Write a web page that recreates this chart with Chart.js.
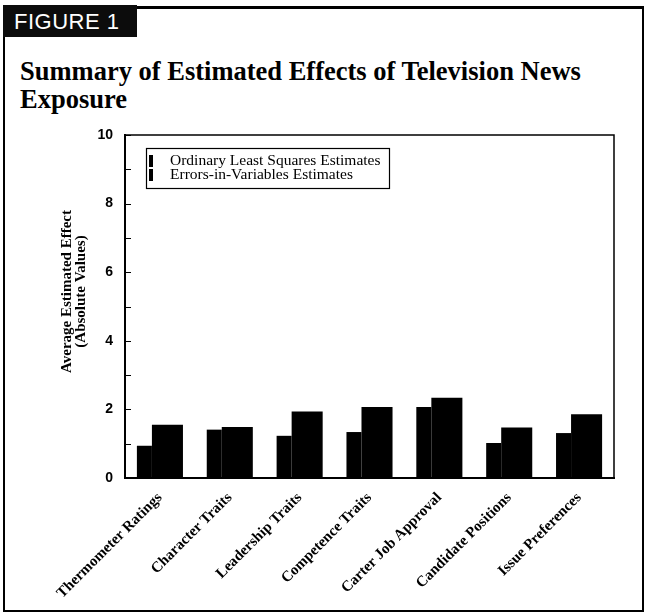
<!DOCTYPE html>
<html>
<head>
<meta charset="utf-8">
<script src="https://cdn.jsdelivr.net/npm/chart.js@4.4.0/dist/chart.umd.min.js"></script>
<style>
    body { margin: 0; background: #fff; }
    #pagina { position: relative; width: 647px; height: 616px; overflow: hidden; background: #fff; }
    #moldura { position: absolute; left: 3px; top: 6px; width: 641px; height: 606px; box-sizing: border-box;
               border: 2px solid #000; border-top-width: 3px; }
    #aba { position: absolute; left: 3px; top: 5px; width: 134px; height: 32px; background: #0c0c0c; color: #fff;
           font: 22px "Liberation Sans", Arial, sans-serif; line-height: 33px; padding-left: 11px; box-sizing: border-box;
           letter-spacing: 0.5px; }
    #titulo { position: absolute; left: 20px; top: 57px; width: 625px; font: bold 26.5px "Liberation Serif", serif;
              line-height: 28px; color: #000; white-space: nowrap; }
    #caixaGrafico { position: absolute; left: 0; top: 0; width: 647px; height: 616px; }
</style>
</head>
<body>
<div id="pagina">
    <div id="moldura"></div>
    <div id="aba">FIGURE 1</div>
    <div id="titulo">Summary of Estimated Effects of Television News<br>Exposure</div>
    <div id="caixaGrafico"><canvas id="grafico"></canvas></div>
</div>
<script>

const categorias = ['Thermometer Ratings', 'Character Traits', 'Leadership Traits', 'Competence Traits',
    'Carter Job Approval', 'Candidate Positions', 'Issue Preferences'];
const valoresMQO = [0.94, 1.41, 1.23, 1.34, 2.07, 1.02, 1.31];
const valoresEIV = [1.55, 1.49, 1.94, 2.07, 2.34, 1.47, 1.86];
const nomesSeries = ['Ordinary Least Squares Estimates', 'Errors-in-Variables Estimates'];
const eixoY = { min: 0, max: 10, passo: 1 };
const tituloEixoY = ['Average Estimated Effect', '(Absolute Values)'];

let grafico;

document.addEventListener('DOMContentLoaded', function() {
    carregarGrafico();
});


// marcas do eixo y por dentro da area, moldura e titulo do eixo y
const pluginMoldura = {
    id: 'moldura',
    afterDraw(chart) {
        const ctx = chart.ctx;
        const area = chart.chartArea;
        const escalaY = chart.scales.y;

        ctx.save();
        ctx.strokeStyle = '#000';
        ctx.lineWidth = 1.5;
        ctx.beginPath();
        ctx.moveTo(area.left, area.top);
        ctx.lineTo(area.right, area.top);
        ctx.lineTo(area.right, area.bottom);
        ctx.stroke();

        ctx.lineWidth = 1;
        escalaY.ticks.forEach(function(t) {
            const y = Math.round(escalaY.getPixelForValue(t.value)) + 0.5;
            ctx.beginPath();
            ctx.moveTo(area.left, y);
            ctx.lineTo(area.left + 6, y);
            ctx.stroke();
        });

        // titulo do eixo, duas linhas giradas
        ctx.translate(area.left - 58, (area.top + area.bottom) / 2 - 15);
        ctx.rotate(-Math.PI / 2);
        ctx.font = 'bold 15px "Liberation Serif", serif';
        ctx.fillStyle = '#000';
        ctx.textAlign = 'center';
        ctx.textBaseline = 'middle';
        tituloEixoY.forEach(function(linha, i) {
            ctx.fillText(linha, 0, i * 14);
        });
        ctx.restore();
    }
};


// legenda em caixa dentro da area do grafico
const pluginLegenda = {
    id: 'legendaCaixa',
    afterDraw(chart) {
        const ctx = chart.ctx;
        const area = chart.chartArea;
        const x = area.left + 21;
        const y = area.top + 13;

        ctx.save();
        ctx.strokeStyle = '#000';
        ctx.lineWidth = 1.2;
        ctx.strokeRect(x + 0.5, y + 0.5, 243, 40);

        ctx.font = '15.5px "Liberation Serif", serif';
        ctx.textBaseline = 'middle';
        chart.data.datasets.forEach(function(ds, i) {
            const yl = y + 13 + i * 14;
            ctx.fillStyle = ds.backgroundColor;
            ctx.fillRect(x + 3, yl - 6, 4, 12);
            ctx.fillStyle = '#000';
            ctx.fillText(ds.label, x + 24, yl);
        });
        ctx.restore();
    }
};


function carregarGrafico() {
    const ctx = document.getElementById('grafico').getContext('2d');

    if (grafico) {
        grafico.destroy();
    }

    grafico = new Chart(ctx, {
        type: 'bar',
        data: {
            labels: categorias,
            datasets: [
                {
                    label: nomesSeries[0],
                    data: valoresMQO,
                    backgroundColor: '#000',
                    categoryPercentage: 0.889,
                    barPercentage: 0.484
                },
                {
                    label: nomesSeries[1],
                    data: valoresEIV,
                    backgroundColor: '#000',
                    categoryPercentage: 0.43,
                    barPercentage: 2.067
                }
            ]
        },
        options: {
            responsive: true,
            maintainAspectRatio: false,
            animation: false,
            layout: {
                padding: { left: 48, top: 135, right: 33, bottom: 3 }
            },
            plugins: {
                legend: { display: false },
                tooltip: { enabled: false }
            },
            scales: {
                x: {
                    grid: { display: false },
                    border: { color: '#000', width: 2 },
                    ticks: {
                        color: '#000',
                        minRotation: 45,
                        maxRotation: 45,
                        padding: 3,
                        font: { family: '"Liberation Serif", serif', size: 15, weight: 'bold' }
                    },
                    afterFit: function(escala) { escala.height = 135; }
                },
                y: {
                    min: eixoY.min,
                    max: eixoY.max,
                    grid: { display: false, drawTicks: false },
                    border: { color: '#000', width: 2 },
                    ticks: {
                        stepSize: eixoY.passo,
                        color: '#000',
                        padding: 12,
                        font: { family: '"Liberation Sans", Arial, sans-serif', size: 14, weight: 'bold' },
                        callback: function(v) { return v % 2 === 0 ? v : ''; }
                    },
                    afterFit: function(escala) { escala.width = 77; }
                }
            }
        },
        plugins: [pluginMoldura, pluginLegenda]
    });
}
</script>
</body>
</html>
